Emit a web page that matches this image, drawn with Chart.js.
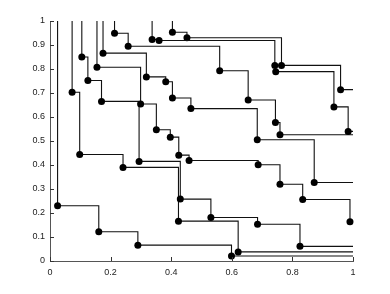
<!DOCTYPE html>
<html>
<head>
<meta charset="utf-8">
<script src="https://cdn.jsdelivr.net/npm/chart.js@4/dist/chart.umd.min.js"></script>
<style>
  html, body { margin: 0; padding: 0; background: #fff; }
  #wrap { width: 390px; height: 294px; }
</style>
</head>
<body>
<div id="wrap"><canvas id="c" width="390" height="294"></canvas></div>
<script>
'use strict';

/* ── data: corner points of each staircase ── */
const aX = [0.025, 0.161, 0.290, 0.599];
const aY = [0.230, 0.122, 0.066, 0.021];
const bX = [0.337, 0.360, 0.742, 0.745, 0.937, 0.984];
const bY = [0.923, 0.919, 0.815, 0.789, 0.642, 0.540];
const cX = [0.404, 0.452, 0.764, 0.959];
const cY = [0.953, 0.930, 0.815, 0.714];
const dX = [0.213, 0.258, 0.560, 0.654, 0.744, 0.759];
const dY = [0.949, 0.895, 0.793, 0.671, 0.577, 0.526];
const eX = [0.175, 0.318, 0.382, 0.404, 0.465, 0.684, 0.872];
const eY = [0.866, 0.767, 0.747, 0.679, 0.635, 0.505, 0.327];
const fX = [0.155, 0.299, 0.351, 0.397, 0.425, 0.459, 0.687, 0.759, 0.834, 0.990];
const fY = [0.807, 0.654, 0.547, 0.516, 0.441, 0.419, 0.401, 0.320, 0.256, 0.164];
const gX = [0.105, 0.125, 0.170, 0.294, 0.430, 0.531, 0.685, 0.825];
const gY = [0.850, 0.752, 0.665, 0.415, 0.258, 0.181, 0.153, 0.061];
const hX = [0.073, 0.098, 0.241, 0.424, 0.621];
const hY = [0.703, 0.444, 0.390, 0.166, 0.038];

const xTicks = [0, 0.2, 0.4, 0.6, 0.8, 1];
const yTicks = [0, 0.1, 0.2, 0.3, 0.4, 0.5, 0.6, 0.7, 0.8, 0.9, 1];

const curves = [[aX, aY], [bX, bY], [cX, cY], [dX, dY], [eX, eY], [fX, fY], [gX, gY], [hX, hY]];

// each staircase drops in from the top edge and runs out to the right edge
function stairs(xs, ys) {
  const pts = [{ x: xs[0], y: 1 }];
  xs.forEach((x, i) => pts.push({ x, y: ys[i] }));
  pts.push({ x: 1, y: ys[ys.length - 1] });
  return {
    data: pts,
    stepped: 'before',
    borderColor: '#111',
    borderWidth: 1.1,
    backgroundColor: '#000',
    pointBackgroundColor: '#000',
    pointBorderWidth: 0,
    pointRadius: pts.map((p, i) => (i === 0 || i === pts.length - 1) ? 0 : 3.5),
    fill: false,
    clip: false
  };
}

/* ── MATLAB-style inward ticks ── */
const inTicks = {
  id: 'inTicks',
  afterDraw(chart) {
    const { ctx, chartArea: a, scales: { x, y } } = chart;
    ctx.save();
    ctx.strokeStyle = '#333';
    ctx.lineWidth = 1;
    ctx.beginPath();
    xTicks.forEach(v => {
      const px = Math.round(x.getPixelForValue(v)) + 0.5;
      ctx.moveTo(px, a.bottom); ctx.lineTo(px, a.bottom - 4);
    });
    yTicks.forEach(v => {
      const py = Math.round(y.getPixelForValue(v)) + 0.5;
      ctx.moveTo(a.left, py); ctx.lineTo(a.left + 4, py);
    });
    ctx.stroke();
    ctx.restore();
  }
};

const font = { family: '"Liberation Sans", Arial, sans-serif', size: 9 };

new Chart(document.getElementById('c'), {
  type: 'line',
  data: { datasets: curves.map(([xs, ys]) => stairs(xs, ys)) },
  options: {
    responsive: false,
    animation: false,
    layout: { padding: { top: 21, right: 37, left: 0, bottom: 0 } },
    plugins: { legend: { display: false }, tooltip: { enabled: false } },
    scales: {
      x: {
        type: 'linear', min: 0, max: 1,
        afterBuildTicks: s => { s.ticks = xTicks.map(v => ({ value: v })); },
        afterFit: s => { s.height = 33; },
        grid: { display: false, drawTicks: false },
        border: { display: true, color: '#555', width: 1 },
        ticks: { color: '#222', font, padding: 6, maxRotation: 0, callback: v => String(v) }
      },
      y: {
        type: 'linear', min: 0, max: 1,
        afterBuildTicks: s => { s.ticks = yTicks.map(v => ({ value: v })); },
        afterFit: s => { s.width = 50; },
        grid: { display: false, drawTicks: false },
        border: { display: true, color: '#555', width: 1 },
        ticks: { color: '#222', font, padding: 5, callback: v => String(v) }
      }
    }
  },
  plugins: [inTicks]
});
</script>
</body>
</html>
